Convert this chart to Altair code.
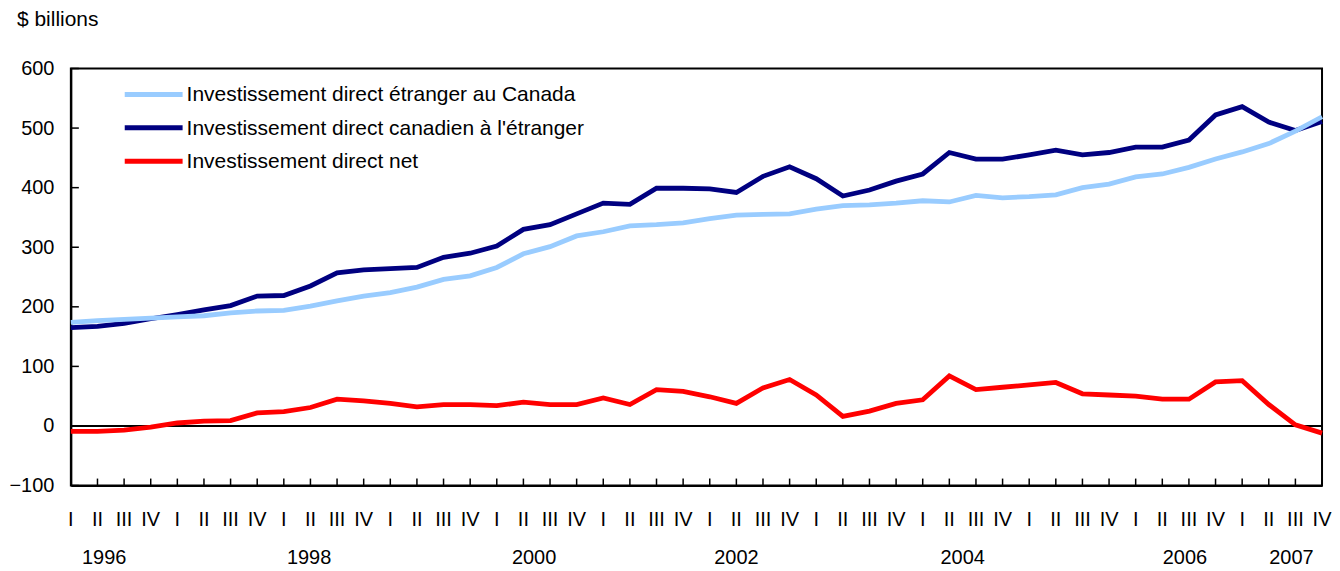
import altair as alt
import pandas as pd

# ---- data (quarters 1996 Q1 .. 2007 Q4) ----
quarter_labels = ["I", "II", "III", "IV"]
years = list(range(1996, 2008))

foreign_in_canada = [174, 177, 179, 181, 183, 185, 190, 193, 194, 201, 210, 218,
                     224, 233, 246, 252, 266, 289, 301, 319, 326, 336, 338, 341,
                     348, 354, 355, 356, 364, 370, 371, 374, 378, 376, 387, 383,
                     385, 388, 400, 406, 418, 423, 434, 448, 460, 474, 495, 519]
canadian_abroad = [165, 167, 172, 180, 187, 195, 202, 218, 219, 235, 257, 262,
                   264, 266, 283, 290, 302, 330, 338, 356, 374, 372, 399, 399,
                   398, 392, 419, 435, 415, 386, 396, 411, 423, 459, 448, 448,
                   455, 463, 455, 459, 468, 468, 480, 522, 536, 510, 496, 511]
net_direct = [-9, -9, -7, -2, 5, 8, 9, 22, 24, 31, 45, 42,
              38, 32, 36, 36, 34, 40, 36, 36, 47, 36, 61, 58,
              49, 38, 64, 78, 52, 16, 25, 38, 44, 84, 61, 65,
              69, 73, 54, 52, 50, 45, 45, 74, 76, 36, 2, -12]

series_names = ["Investissement direct étranger au Canada",
                "Investissement direct canadien à l'étranger",
                "Investissement direct net"]
series_colors = ["#99CCFF", "#000080", "#FF0000"]

year_label_text = ["1996", "1998", "2000", "2002", "2004", "2006", "2007"]
year_label_pos = [1.25, 8.95, 17.4, 25.0, 33.5, 41.85, 45.85]

y_ticks = [-100, 0, 100, 200, 300, 400, 500, 600]

W, H = 1254, 418
FONT = "Liberation Sans"
FS = 20

n = len(foreign_in_canada)
rows = []
for name, vals in zip(series_names, [foreign_in_canada, canadian_abroad, net_direct]):
    for i, v in enumerate(vals):
        rows.append({"q": i, "value": v, "series": name})
df = pd.DataFrame(rows)

xscale = alt.Scale(domain=[0, n - 1], nice=False, zero=False)
yscale = alt.Scale(domain=[-100, 600], nice=False, zero=False)

base_x = alt.X("q:Q", scale=xscale,
               axis=alt.Axis(values=list(range(n)), labels=False, title=None,
                             grid=False, ticks=False,
                             domainColor="black", domainWidth=2))
base_y = alt.Y("value:Q", scale=yscale,
               axis=alt.Axis(values=y_ticks, title=None, grid=False, ticks=False,
                             labelPadding=17, labelFontSize=FS, labelFont=FONT,
                             labelColor="black", domainColor="black", domainWidth=2))

# lines: dark first, light on top, red last
line_layers = []
for idx in [1, 0, 2]:
    sub = df[df["series"] == series_names[idx]]
    line_layers.append(
        alt.Chart(sub).mark_line(strokeWidth=4.8, color=series_colors[idx], strokeJoin="miter").encode(
            x=base_x, y=base_y)
    )

zero = alt.Chart(pd.DataFrame({"v": [0]})).mark_rule(color="black", strokeWidth=2).encode(
    y=alt.Y("v:Q", scale=yscale))

q_df = pd.DataFrame({"q": list(range(n)),
                     "lab": [quarter_labels[i % 4] for i in range(n)]})

xticks = alt.Chart(q_df).mark_rule(color="black", strokeWidth=1.5).encode(
    x=alt.X("q:Q", scale=xscale), y=alt.value(H), y2=alt.value(H - 7))

q_text = alt.Chart(q_df).mark_text(font=FONT, fontSize=FS, color="black",
                                   baseline="alphabetic", align="center").encode(
    x=alt.X("q:Q", scale=xscale), y=alt.value(H + 41), text="lab:N")

yticks = alt.Chart(pd.DataFrame({"v": y_ticks})).mark_rule(color="black", strokeWidth=1.5).encode(
    y=alt.Y("v:Q", scale=yscale), x=alt.value(0), x2=alt.value(8))

year_df = pd.DataFrame({"pos": year_label_pos, "label": year_label_text})
year_text = alt.Chart(year_df).mark_text(font=FONT, fontSize=FS, color="black",
                                         baseline="alphabetic", align="center").encode(
    x=alt.X("pos:Q", scale=xscale), y=alt.value(H + 79), text="label:N")

unit_text = alt.Chart(pd.DataFrame({"t": ["$ billions"]})).mark_text(
    font=FONT, fontSize=21, color="black", align="left", baseline="alphabetic").encode(
    x=alt.value(-54), y=alt.value(-43), text="t:N")

legend_layers = []
row_y = [26, 59.5, 93]
for name, col, ry in zip(series_names, series_colors, row_y):
    d = pd.DataFrame({"t": [name]})
    legend_layers.append(
        alt.Chart(d).mark_rule(color=col, strokeWidth=5).encode(
            x=alt.value(54), x2=alt.value(112), y=alt.value(ry)))
    legend_layers.append(
        alt.Chart(d).mark_text(font=FONT, fontSize=21, color="black", align="left",
                               baseline="middle").encode(
            x=alt.value(116), y=alt.value(ry + 1), text="t:N"))

chart = alt.layer(zero, *line_layers, xticks, q_text, yticks, year_text, unit_text, *legend_layers).properties(
    width=W, height=H,
    autosize=alt.AutoSizeParams(type="none"),
    padding={"left": 63, "top": 60, "right": 10, "bottom": 85},
).configure(background="white").configure_view(stroke="black", strokeWidth=2)

chart.save("out.html", embed_options={"renderer": "svg", "actions": False})
